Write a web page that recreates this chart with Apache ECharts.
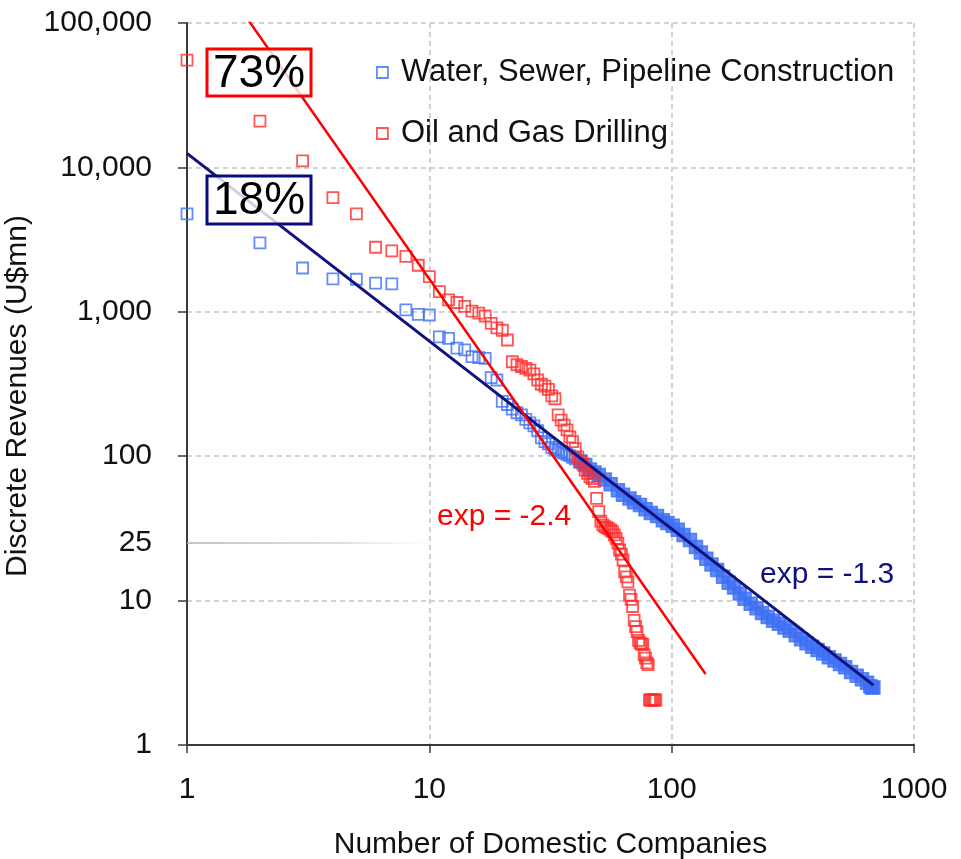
<!DOCTYPE html>
<html>
<head>
<meta charset="utf-8">
<title>Discrete Revenues vs Number of Domestic Companies</title>
<script src="https://cdn.jsdelivr.net/npm/echarts@6/dist/echarts.min.js"></script>
<style>
  html, body { margin: 0; padding: 0; background: #ffffff; }
  #chart { width: 961px; height: 859px; }
</style>
</head>
<body>
<div id="chart"></div>
<script>
// Rank-size data: company rank (x) against discrete revenue in U$mn (y)

// Water, Sewer, Pipeline Construction - top ranks, drawn individually
const waterHeadRank = [1, 2, 3, 4, 5, 6, 7, 8, 9, 10, 11, 12, 13, 14, 15, 16, 17, 18, 19, 20,
  21, 22, 23, 24, 25, 26, 27, 28, 29, 30, 31, 32, 33, 34, 35, 36, 37, 38, 39, 40];
const waterHeadRevenue = [4760, 3000, 2010, 1690, 1680, 1580, 1560, 1030, 960, 950,
  670, 655, 560, 545, 490, 482, 476, 350, 337, 240,
  228, 212, 200, 193, 180, 170, 162, 150, 134, 126,
  122, 115, 112, 110, 107, 105, 103, 101, 98, 96];

// Water, Sewer, Pipeline Construction - long tail, where the markers merge into a band
const waterTailRank = [42, 44, 46, 48, 50, 53, 56, 60, 63, 67, 70, 74, 78, 82, 87, 92, 96, 101,
  106, 112, 119, 126, 132, 139, 146, 154, 163, 172, 181, 191, 200, 212, 224, 236, 249, 262,
  277, 292, 307, 325, 342, 360, 380, 400, 422, 445, 470, 495, 520, 550, 580, 610, 640, 660, 670, 680];
const waterTailRevenue = [92, 87, 81, 77, 74, 69, 64, 58, 54, 51, 48, 46, 43, 40.5, 38.5, 36, 34.5, 33,
  31, 28.5, 26.3, 23.5, 21.5, 19.5, 17.8, 16.3, 14.6, 13.3, 12.3, 11.2, 10.3, 9.5, 8.85, 8.2, 7.7, 7.26,
  6.9, 6.5, 6.19, 5.75, 5.4, 5.06, 4.8, 4.55, 4.31, 4.05, 3.85, 3.64, 3.45, 3.2, 3.02, 2.85, 2.7, 2.55, 2.5, 2.5];

// Oil and Gas Drilling
const oilRank = [1, 2, 3, 4, 5, 6, 7, 8, 9, 10, 11, 12, 13, 14, 15, 16, 17, 18, 19, 20,
  21, 22, 23, 24, 25, 26, 27, 28, 29, 30, 31, 32, 33, 34, 35, 36, 37, 38, 39, 40,
  41, 42, 43, 44, 45, 46, 47, 48, 49, 50, 51, 52, 53, 54, 55, 56, 57, 58, 59, 60,
  61, 62, 63, 64, 65, 66, 67, 68, 69, 70, 71, 72, 73, 74, 75, 76, 77, 78, 79, 80,
  81, 82, 83, 84, 85, 86];
const oilRevenue = [55400, 20900, 11100, 6170, 4760, 2800, 2640, 2420, 2100, 1750,
  1380, 1210, 1160, 1090, 1010, 980, 935, 832, 775, 745,
  638, 451, 430, 418, 406, 395, 372, 337, 315, 306,
  290, 262, 250, 193, 178, 164, 152, 136, 126, 113,
  99, 92, 88, 80, 76, 72, 70, 67, 51, 41.3,
  35.5, 33.5, 32.5, 32, 31.5, 30.8, 30, 28.5, 27, 25,
  22.4, 21, 19.1, 15.8, 14.6, 13.5, 10.9, 10.2, 9.1, 7.3,
  6.6, 6.1, 5.3, 5.1, 5.0, 5.0, 4.2, 4.0, 3.7, 3.6,
  2.05, 2.05, 2.05, 2.05, 2.05, 2.05];

// Power-law fits: revenue = coef * rank ^ exponent, drawn over [rankFrom, rankTo]
const waterFit = { coef: 12500, exponent: -1.3, rankFrom: 1, rankTo: 680 };
const oilFit = { coef: 424000, exponent: -2.4, rankFrom: 1, rankTo: 138 };

// Share labels and reference level
const waterShare = '18%';
const oilShare = '73%';
const referenceLevel = 25;

// Axis ticks
const xTicks = [1, 10, 100, 1000];
const yTicks = [1, 10, 100, 1000, 10000, 100000];

const WATER = 'Water, Sewer, Pipeline Construction';
const OIL = 'Oil and Gas Drilling';
const BLUE = '#3d6ff4';
const RED = '#ff2a2a';
const NAVY = '#10107e';
const FONT = '"Liberation Sans", Arial, Helvetica, sans-serif';

const zip = (xs, ys) => xs.map((x, i) => [x, ys[i]]);
const fitLine = f => [f.rankFrom, f.rankTo].map(r => [r, f.coef * Math.pow(r, f.exponent)]);

const chart = echarts.init(document.getElementById('chart'), null, { renderer: 'canvas' });

const gridLine = { show: true, lineStyle: { color: '#c4c4c4', width: 1.5, type: [5, 4] } };
const axisLine = { show: true, onZero: false, lineStyle: { color: '#3a3a3a', width: 2 } };

chart.setOption({
  animation: false,
  backgroundColor: '#ffffff',
  textStyle: { fontFamily: FONT },
  grid: { left: 187, right: 47, top: 23, bottom: 114, containLabel: false, outerBoundsMode: 'none' },
  legend: {
    orient: 'vertical',
    left: 371,
    top: 52,
    itemGap: 30,
    itemWidth: 11,
    itemHeight: 11,
    textStyle: { fontSize: 31, color: '#111', fontFamily: FONT, padding: [0, 0, 0, 8] },
    data: [
      { name: WATER, icon: 'rect', itemStyle: { color: 'rgba(0,0,0,0)', borderColor: BLUE, borderWidth: 1.8 } },
      { name: OIL, icon: 'rect', itemStyle: { color: 'rgba(0,0,0,0)', borderColor: RED, borderWidth: 1.8 } }
    ]
  },
  xAxis: {
    type: 'log',
    logBase: 10,
    min: xTicks[0],
    max: xTicks[xTicks.length - 1],
    name: 'Number of Domestic Companies',
    nameLocation: 'middle',
    nameGap: 85,
    nameTextStyle: { fontSize: 30, color: '#111', fontFamily: FONT },
    axisLine: axisLine,
    axisTick: { show: true, inside: false, length: 8, lineStyle: { color: '#3a3a3a', width: 1.5 } },
    axisLabel: { fontSize: 30, color: '#111', margin: 30, fontFamily: FONT, formatter: v => String(v) },
    splitLine: gridLine,
    minorTick: { show: false }
  },
  yAxis: {
    type: 'log',
    logBase: 10,
    min: yTicks[0],
    max: yTicks[yTicks.length - 1],
    name: 'Discrete Revenues (U$mn)',
    nameLocation: 'middle',
    nameGap: 122,
    nameRotate: 90,
    nameTextStyle: { fontSize: 30, color: '#111', fontFamily: FONT, padding: [0, 24, 0, 0] },
    axisLine: axisLine,
    axisTick: { show: true, inside: false, length: 9, lineStyle: { color: '#3a3a3a', width: 1.5 } },
    axisLabel: { fontSize: 30, color: '#111', margin: 35, fontFamily: FONT,
      formatter: v => Number(v).toLocaleString('en-US') },
    splitLine: gridLine,
    minorTick: { show: false }
  },
  series: [
    {
      name: WATER,
      type: 'scatter',
      symbol: 'rect',
      symbolSize: 11,
      itemStyle: { color: 'rgba(0,0,0,0)', borderColor: BLUE, borderWidth: 1.8 },
      data: zip(waterHeadRank, waterHeadRevenue),
      z: 2
    },
    {
      name: WATER,
      type: 'scatter',
      symbol: 'rect',
      symbolSize: 13,
      itemStyle: { color: BLUE, borderColor: BLUE, borderWidth: 1.5 },
      data: zip(waterTailRank, waterTailRevenue),
      z: 2
    },
    {
      name: OIL,
      type: 'scatter',
      symbol: 'rect',
      symbolSize: 11,
      itemStyle: { color: 'rgba(0,0,0,0)', borderColor: RED, borderWidth: 1.8 },
      data: zip(oilRank, oilRevenue),
      z: 3
    },
    {
      name: 'water-fit',
      type: 'line',
      data: fitLine(waterFit),
      showSymbol: false,
      symbol: 'none',
      clip: true,
      lineStyle: { color: NAVY, width: 3 },
      silent: true,
      z: 4
    },
    {
      name: 'oil-fit',
      type: 'line',
      data: fitLine(oilFit),
      showSymbol: false,
      symbol: 'none',
      clip: true,
      lineStyle: { color: '#ff0000', width: 2.5 },
      silent: true,
      z: 5,
      markLine: {
        silent: true,
        symbol: 'none',
        animation: false,
        lineStyle: {
          width: 1.5,
          type: 'solid',
          color: { type: 'linear', x: 0, y: 0, x2: 1, y2: 0,
            colorStops: [{ offset: 0, color: 'rgba(175,175,175,1)' }, { offset: 0.6, color: 'rgba(205,205,205,0.9)' }, { offset: 1, color: 'rgba(235,235,235,0)' }] }
        },
        label: { show: true, position: 'start', distance: 35, formatter: String(referenceLevel),
          fontSize: 30, color: '#111', fontFamily: FONT },
        data: [[{ coord: [1, referenceLevel] }, { coord: [11, referenceLevel] }]]
      }
    }
  ],
  graphic: [
    { type: 'rect', z: 100, shape: { x: 207, y: 49, width: 104, height: 47 },
      style: { fill: 'rgba(255,255,255,0.8)', stroke: '#ff0000', lineWidth: 3 } },
    { type: 'text', z: 101, style: { text: oilShare, x: 259, y: 74, align: 'center', verticalAlign: 'middle',
      fontSize: 46, fontFamily: FONT, fill: '#000' } },
    { type: 'rect', z: 100, shape: { x: 207, y: 176, width: 104, height: 48 },
      style: { fill: 'rgba(255,255,255,0.8)', stroke: '#0a0a80', lineWidth: 3 } },
    { type: 'text', z: 101, style: { text: waterShare, x: 259, y: 201, align: 'center', verticalAlign: 'middle',
      fontSize: 46, fontFamily: FONT, fill: '#000' } },
    { type: 'text', z: 101, style: { text: 'exp = ' + oilFit.exponent, x: 437, y: 517, align: 'left', verticalAlign: 'middle',
      fontSize: 30, fontFamily: FONT, fill: '#ff0000' } },
    { type: 'text', z: 101, style: { text: 'exp = ' + waterFit.exponent, x: 760, y: 575, align: 'left', verticalAlign: 'middle',
      fontSize: 30, fontFamily: FONT, fill: NAVY } }
  ]
});
</script>
</body>
</html>
